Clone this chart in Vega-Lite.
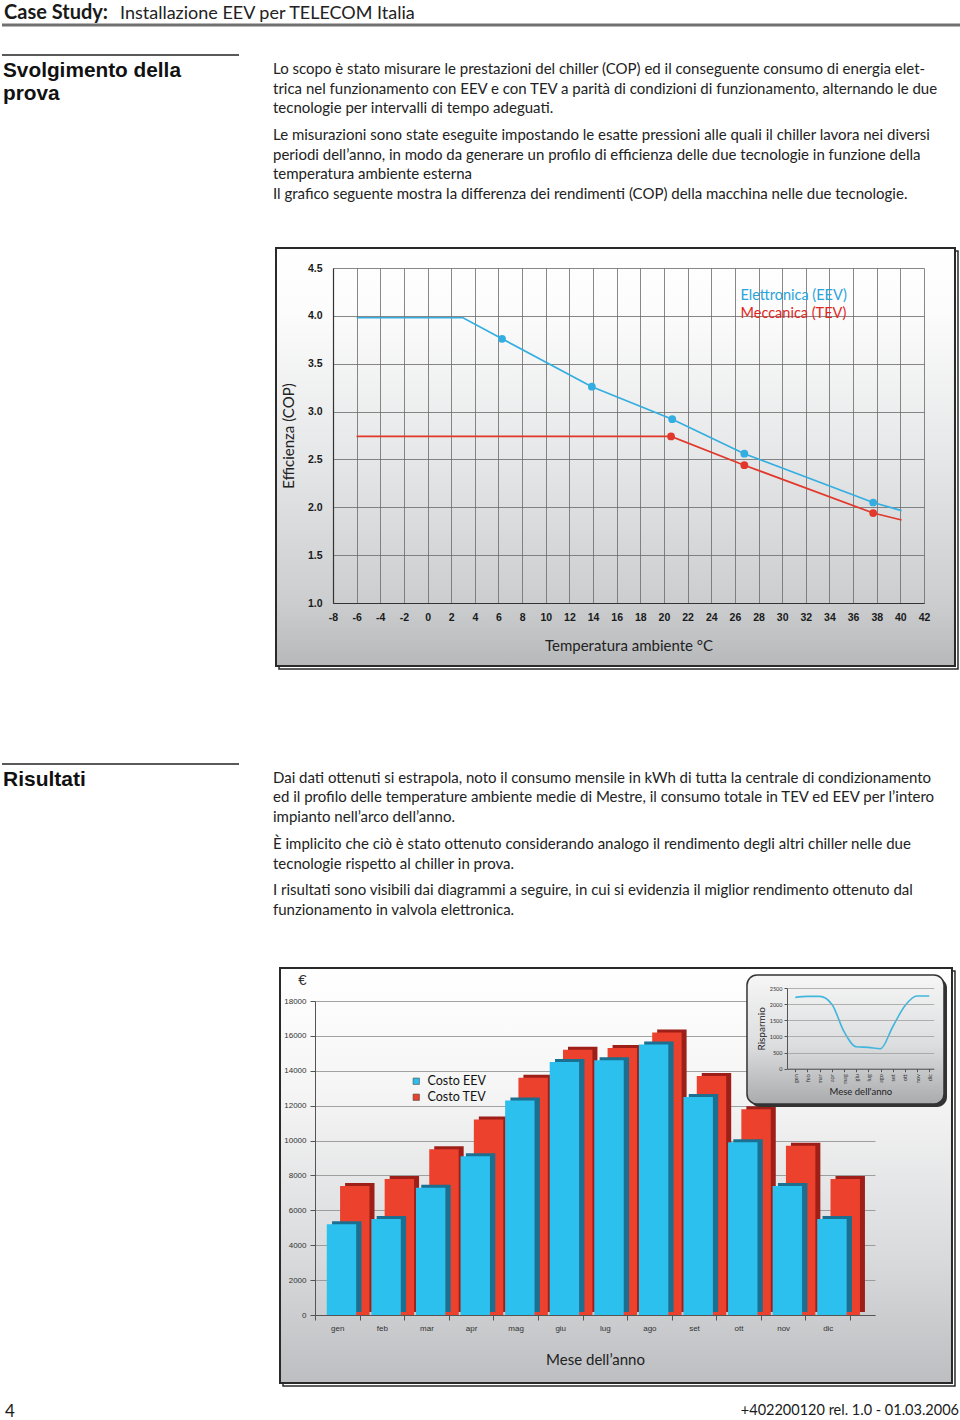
{
  "$schema": "https://vega.github.io/schema/vega-lite/v6.json",
  "padding": 0,
  "background": "white",
  "config": {
    "view": {"stroke": null},
    "font": "Lato",
    "title": {"orient": "bottom", "anchor": "start", "frame": "group", "offset": 0, "font": "Lato", "fontSize": 15, "fontWeight": "normal", "color": "#222222", "lineHeight": 19.5, "baseline": "top"}
  },
  "datasets": {
    "cop_curva": [
      {"serie": "Elettronica (EEV)", "t": -6, "cop": 3.98},
      {"serie": "Elettronica (EEV)", "t": 3, "cop": 3.98},
      {"serie": "Elettronica (EEV)", "t": 6.3, "cop": 3.76},
      {"serie": "Elettronica (EEV)", "t": 13.9, "cop": 3.26},
      {"serie": "Elettronica (EEV)", "t": 20.7, "cop": 2.92},
      {"serie": "Elettronica (EEV)", "t": 26.8, "cop": 2.56},
      {"serie": "Elettronica (EEV)", "t": 37.7, "cop": 2.05},
      {"serie": "Elettronica (EEV)", "t": 40.1, "cop": 1.965},
      {"serie": "Meccanica (TEV)", "t": -6, "cop": 2.74},
      {"serie": "Meccanica (TEV)", "t": 20.6, "cop": 2.74},
      {"serie": "Meccanica (TEV)", "t": 26.8, "cop": 2.44},
      {"serie": "Meccanica (TEV)", "t": 37.7, "cop": 1.94},
      {"serie": "Meccanica (TEV)", "t": 40.1, "cop": 1.867}
    ],
    "cop_misure": [
      {"serie": "Elettronica (EEV)", "t": 6.3, "cop": 3.76},
      {"serie": "Elettronica (EEV)", "t": 13.9, "cop": 3.26},
      {"serie": "Elettronica (EEV)", "t": 20.7, "cop": 2.92},
      {"serie": "Elettronica (EEV)", "t": 26.8, "cop": 2.56},
      {"serie": "Elettronica (EEV)", "t": 37.7, "cop": 2.05},
      {"serie": "Meccanica (TEV)", "t": 20.6, "cop": 2.74},
      {"serie": "Meccanica (TEV)", "t": 26.8, "cop": 2.44},
      {"serie": "Meccanica (TEV)", "t": 37.7, "cop": 1.94}
    ],
    "costi": [
      {"mese": "gen", "serie": "Costo EEV", "costo": 5200}, {"mese": "gen", "serie": "Costo TEV", "costo": 7400},
      {"mese": "feb", "serie": "Costo EEV", "costo": 5500}, {"mese": "feb", "serie": "Costo TEV", "costo": 7800},
      {"mese": "mar", "serie": "Costo EEV", "costo": 7300}, {"mese": "mar", "serie": "Costo TEV", "costo": 9500},
      {"mese": "apr", "serie": "Costo EEV", "costo": 9100}, {"mese": "apr", "serie": "Costo TEV", "costo": 11200},
      {"mese": "mag", "serie": "Costo EEV", "costo": 12300}, {"mese": "mag", "serie": "Costo TEV", "costo": 13600},
      {"mese": "giu", "serie": "Costo EEV", "costo": 14500}, {"mese": "giu", "serie": "Costo TEV", "costo": 15200},
      {"mese": "lug", "serie": "Costo EEV", "costo": 14600}, {"mese": "lug", "serie": "Costo TEV", "costo": 15300},
      {"mese": "ago", "serie": "Costo EEV", "costo": 15500}, {"mese": "ago", "serie": "Costo TEV", "costo": 16200},
      {"mese": "set", "serie": "Costo EEV", "costo": 12500}, {"mese": "set", "serie": "Costo TEV", "costo": 13700},
      {"mese": "ott", "serie": "Costo EEV", "costo": 9900}, {"mese": "ott", "serie": "Costo TEV", "costo": 11800},
      {"mese": "nov", "serie": "Costo EEV", "costo": 7400}, {"mese": "nov", "serie": "Costo TEV", "costo": 9700},
      {"mese": "dic", "serie": "Costo EEV", "costo": 5500}, {"mese": "dic", "serie": "Costo TEV", "costo": 7800}
    ],
    "risparmio": [
      {"n": 1, "mese": "gen", "risparmio": 2210}, {"n": 2, "mese": "feb", "risparmio": 2240},
      {"n": 3, "mese": "mar", "risparmio": 2240}, {"n": 4, "mese": "apr", "risparmio": 2000},
      {"n": 5, "mese": "mag", "risparmio": 1150}, {"n": 6, "mese": "giu", "risparmio": 680},
      {"n": 7, "mese": "lug", "risparmio": 660}, {"n": 8, "mese": "ago", "risparmio": 620},
      {"n": 9, "mese": "set", "risparmio": 1300}, {"n": 10, "mese": "ott", "risparmio": 1950},
      {"n": 11, "mese": "nov", "risparmio": 2250}, {"n": 12, "mese": "dic", "risparmio": 2250}
    ]
  },
  "columns": 2,
  "spacing": 0,
  "bounds": "flush",
  "align": {"row": "each", "column": "each"},
  "resolve": {"scale": {"color": "independent"}, "legend": {"color": "independent"}},
  "concat": [
    {"width": 313, "height": 2, "data": {"values": []}, "mark": "point", "encoding": {},
     "title": {"text": "Case Study:", "dx": 2, "offset": 17, "baseline": "alphabetic", "fontWeight": "bold", "fontSize": 20, "color": "#1a1a1a"}},
    {"width": 645, "height": 2, "data": {"values": []}, "mark": "point", "encoding": {},
     "title": {"text": "Installazione EEV per TELECOM Italia", "dx": -195, "offset": 17, "baseline": "alphabetic", "fontSize": 18, "color": "#222222"}},

    {"width": 313, "height": 23, "data": {"values": [{}]}, "mark": {"type": "rule", "color": "#707070", "strokeWidth": 3},
     "encoding": {"y": {"datum": 0, "scale": {"domain": [0, 1]}, "axis": null}}},
    {"width": 645, "height": 23, "data": {"values": [{}]}, "mark": {"type": "rule", "color": "#707070", "strokeWidth": 3},
     "encoding": {"y": {"datum": 0, "scale": {"domain": [0, 1]}, "axis": null}}},

    {"width": 237, "height": 30, "data": {"values": [{}]}, "mark": {"type": "rule", "color": "#222222", "strokeWidth": 1.3},
     "encoding": {"y": {"datum": 0, "scale": {"domain": [0, 1]}, "axis": null}},
     "title": {"text": ["Svolgimento della", "prova"], "dx": 1, "offset": 5, "font": "Liberation Sans", "fontWeight": "bold", "fontSize": 20.8, "lineHeight": 23, "color": "#111111"}},
    {"width": 645, "height": 30, "data": {"values": []}, "mark": "point", "encoding": {},
     "title": {"text": ["Lo scopo è stato misurare le prestazioni del chiller (COP) ed il conseguente consumo di energia elet-", "trica nel funzionamento con EEV e con TEV a parità di condizioni di funzionamento, alternando le due", "tecnologie per intervalli di tempo adeguati."], "dx": -42, "offset": 7}},

    {"width": 237, "height": 69, "data": {"values": []}, "mark": "point", "encoding": {}},
    {"width": 645, "height": 69, "data": {"values": []}, "mark": "point", "encoding": {},
     "title": {"text": ["Le misurazioni sono state eseguite impostando le esatte pressioni alle quali il chiller lavora nei diversi", "periodi dell’anno, in modo da generare un profilo di efficienza delle due tecnologie in funzione della", "temperatura ambiente esterna", "Il grafico seguente mostra la differenza dei rendimenti (COP) della macchina nelle due tecnologie."], "dx": -42}},

    {"width": 237, "height": 144, "data": {"values": []}, "mark": "point", "encoding": {}},
    {"width": 645, "height": 144, "data": {"values": []}, "mark": "point", "encoding": {}},

    {"width": 313, "height": 335, "data": {"values": [{}]},
     "encoding": {
       "x": {"datum": 0.8754, "scale": {"domain": [0, 1]}, "axis": null},
       "x2": {"datum": 3.0447},
       "y": {"datum": 1.0597, "scale": {"domain": [0, 1]}, "axis": null},
       "y2": {"datum": -0.188}
     },
     "layer": [
       {"mark": {"type": "rect", "fillOpacity": 0, "stroke": "#2a2a2a", "strokeWidth": 1.5, "xOffset": 3, "x2Offset": 3, "yOffset": 3, "y2Offset": 3}},
       {"mark": {"type": "rect", "stroke": "#2a2a2a", "strokeWidth": 2,
         "fill": {"gradient": "linear", "x1": 0, "y1": 0, "x2": 0, "y2": 1, "stops": [
           {"offset": 0, "color": "#ffffff"}, {"offset": 0.15, "color": "#fcfcfc"}, {"offset": 0.5, "color": "#e6e7e8"}, {"offset": 0.85, "color": "#cbcdcf"}, {"offset": 1, "color": "#b6b8ba"}]}}}
     ]},
    {"width": 609, "height": 335,
     "layer": [
       {"data": {"name": "cop_curva"},
        "mark": {"type": "line", "strokeWidth": 1.7},
        "encoding": {
          "x": {"field": "t", "type": "quantitative", "scale": {"domain": [-8, 42], "range": [18, 609], "nice": false, "zero": false},
                "axis": {"values": [-8, -6, -4, -2, 0, 2, 4, 6, 8, 10, 12, 14, 16, 18, 20, 22, 24, 26, 28, 30, 32, 34, 36, 38, 40, 42], "tickCount": 60,
                         "labelExpr": "datum.value + ''", "grid": true, "gridColor": "#6a6a6a", "gridWidth": 0.8,
                         "domainColor": "#333333", "domainWidth": 1.2, "tickSize": 0, "labelPadding": 9,
                         "labelFont": "Liberation Sans", "labelFontWeight": "bold", "labelFontSize": 10.5, "labelColor": "#1a1a1a",
                         "labelFlush": false, "labelOverlap": false,
                         "title": "Temperatura ambiente °C", "titleFont": "Lato", "titleFontSize": 15, "titleFontWeight": "normal",
                         "titleColor": "#222222", "titlePadding": 16}},
          "y": {"field": "cop", "type": "quantitative", "scale": {"domain": [1, 4.5], "nice": false, "zero": false},
                "axis": {"offset": -18, "values": [1, 1.5, 2, 2.5, 3, 3.5, 4, 4.5], "tickCount": 30, "format": ".1f", "grid": true, "gridColor": "#6a6a6a", "gridWidth": 0.8,
                         "domainColor": "#333333", "domainWidth": 1.2, "tickSize": 0, "labelPadding": 11,
                         "labelFont": "Liberation Sans", "labelFontWeight": "bold", "labelFontSize": 10.5, "labelColor": "#1a1a1a",
                         "labelFlush": false, "labelOverlap": false,
                         "title": "Efficienza (COP)", "titleFont": "Lato", "titleFontSize": 15, "titleFontWeight": "normal",
                         "titleColor": "#222222", "titlePadding": 11}},
          "color": {"field": "serie", "type": "nominal",
                    "scale": {"domain": ["Elettronica (EEV)", "Meccanica (TEV)"], "range": ["#34aee0", "#e2382b"]},
                    "legend": {"title": null, "orient": "none", "legendX": 411, "legendY": 21, "symbolSize": 0, "symbolOpacity": 0,
                               "symbolStrokeWidth": 0, "labelOffset": 0, "labelFont": "Lato", "labelFontSize": 14.5, "rowPadding": 2.5, "padding": 0,
                               "encode": {"labels": {"update": {"fill": {"signal": "datum.value == 'Elettronica (EEV)' ? '#2ba3da' : '#e1261c'"}}}}}}
        }},
       {"data": {"name": "cop_misure"},
        "mark": {"type": "circle", "size": 60, "opacity": 1},
        "encoding": {
          "x": {"field": "t", "type": "quantitative"},
          "y": {"field": "cop", "type": "quantitative"},
          "color": {"field": "serie", "type": "nominal"}
        }}
     ]},

    {"width": 237, "height": 161, "data": {"values": [{}]}, "mark": {"type": "rule", "color": "#222222", "strokeWidth": 1.3},
     "encoding": {"y": {"datum": 0, "scale": {"domain": [0, 1]}, "axis": null}},
     "title": {"text": "Risultati", "dx": 1, "offset": 4, "font": "Liberation Sans", "fontWeight": "bold", "fontSize": 21, "color": "#111111"}},
    {"width": 645, "height": 161, "data": {"values": []}, "mark": "point", "encoding": {},
     "title": {"text": ["Dai dati ottenuti si estrapola, noto il consumo mensile in kWh di tutta la centrale di condizionamento", "ed il profilo delle temperature ambiente medie di Mestre, il consumo totale in TEV ed EEV per l’intero", "impianto nell’arco dell’anno."], "dx": -42, "offset": 6.5}},

    {"width": 237, "height": 69, "data": {"values": []}, "mark": "point", "encoding": {}},
    {"width": 645, "height": 69, "data": {"values": []}, "mark": "point", "encoding": {},
     "title": {"text": ["È implicito che ciò è stato ottenuto considerando analogo il rendimento degli altri chiller nelle due", "tecnologie rispetto al chiller in prova."], "dx": -42}},

    {"width": 237, "height": 46, "data": {"values": []}, "mark": "point", "encoding": {}},
    {"width": 645, "height": 46, "data": {"values": []}, "mark": "point", "encoding": {},
     "title": {"text": ["I risultati sono visibili dai diagrammi a seguire, in cui si evidenzia il miglior rendimento ottenuto dal", "funzionamento in valvola elettronica."], "dx": -42}},

    {"width": 237, "height": 122, "data": {"values": []}, "mark": "point", "encoding": {}},
    {"width": 645, "height": 122, "data": {"values": []}, "mark": "point", "encoding": {}},

    {"width": 313, "height": 314, "data": {"values": [{}]},
     "encoding": {
       "x": {"datum": 0.8882, "scale": {"domain": [0, 1]}, "axis": null},
       "x2": {"datum": 3.0351},
       "y": {"datum": 1.1051, "scale": {"domain": [0, 1]}, "axis": null},
       "y2": {"datum": -0.2166}
     },
     "layer": [
       {"mark": {"type": "rect", "fillOpacity": 0, "stroke": "#2a2a2a", "strokeWidth": 1.5, "xOffset": 3, "x2Offset": 3, "yOffset": 3, "y2Offset": 3}},
       {"mark": {"type": "rect", "stroke": "#2a2a2a", "strokeWidth": 2,
         "fill": {"gradient": "linear", "x1": 0, "y1": 0, "x2": 0, "y2": 1, "stops": [
           {"offset": 0, "color": "#ffffff"}, {"offset": 0.3, "color": "#f5f5f5"}, {"offset": 0.7, "color": "#d9dadc"}, {"offset": 1, "color": "#bcbec1"}]}}}
     ]},
    {"width": 560, "height": 314,
     "resolve": {"scale": {"x": "independent", "y": "independent"}},
     "layer": [
       {"data": {"name": "costi"},
        "encoding": {
          "x": {"field": "mese", "type": "nominal",
                "scale": {"domain": ["gen", "feb", "mar", "apr", "mag", "giu", "lug", "ago", "set", "ott", "nov", "dic"], "paddingInner": 0, "paddingOuter": 0.28, "align": 0},
                "axis": {"orient": "bottom", "tickBand": "extent", "tickSize": 5, "tickColor": "#555555", "labelFont": "Liberation Sans", "labelFontSize": 8,
                         "labelColor": "#333333", "labelPadding": 4, "labelAngle": 0, "domainColor": "#555555",
                         "title": "Mese dell’anno", "titleFont": "Lato", "titleFontSize": 15, "titleFontWeight": "normal", "titleColor": "#222222", "titlePadding": 20}},
          "y": {"field": "costo", "type": "quantitative", "scale": {"domain": [0, 18000], "nice": false},
                "axis": {"orient": "left", "values": [0, 2000, 4000, 6000, 8000, 10000, 12000, 14000, 16000, 18000], "tickCount": 30, "format": "d",
                         "grid": true, "gridColor": "#8c8c8c", "gridWidth": 0.8,
                         "tickSize": 5, "tickColor": "#555555", "labelFont": "Liberation Sans", "labelFontSize": 8, "labelColor": "#333333", "labelPadding": 4,
                         "domainColor": "#555555", "labelFlush": false, "labelOverlap": false,
                         "title": "€", "titleAngle": 0, "titleX": -13, "titleY": -22, "titleFont": "Liberation Sans", "titleFontSize": 15,
                         "titleFontWeight": "normal", "titleColor": "#333333", "titleAlign": "center", "titleBaseline": "middle"}}
        },
        "layer": [
          {"transform": [{"filter": "datum.serie == 'Costo TEV'"}],
           "mark": {"type": "bar", "color": "#9d1f18", "width": {"band": 0.66}, "xOffset": 22.5, "yOffset": -3}},
          {"transform": [{"filter": "datum.serie == 'Costo TEV'"}],
           "mark": {"type": "bar", "width": {"band": 0.66}, "xOffset": 17.5},
           "encoding": {"color": {"field": "serie", "type": "nominal",
             "scale": {"domain": ["Costo EEV", "Costo TEV"], "range": ["#2cc0ee", "#ec412d"]},
             "legend": {"title": null, "orient": "none", "legendX": 95, "legendY": 74, "symbolType": "square", "symbolSize": 40,
                        "symbolStrokeColor": "#444444", "symbolStrokeWidth": 0.6, "labelFont": "Lato", "labelFontSize": 12.5,
                        "labelColor": "#111111", "rowPadding": 3, "labelOffset": 5, "padding": 0}}}},
          {"transform": [{"filter": "datum.serie == 'Costo EEV'"}],
           "mark": {"type": "bar", "color": "#1b6f90", "width": {"band": 0.66}, "xOffset": 9.5, "yOffset": -3}},
          {"transform": [{"filter": "datum.serie == 'Costo EEV'"}],
           "mark": {"type": "bar", "width": {"band": 0.66}, "xOffset": 4.2},
           "encoding": {"color": {"field": "serie", "type": "nominal"}}}
        ]},
       {"data": {"values": [{}]},
        "encoding": {
          "x": {"datum": 0.7714, "scale": {"domain": [0, 1]}, "axis": null},
          "x2": {"datum": 1.1232},
          "y": {"datum": 1.0828, "scale": {"domain": [0, 1]}, "axis": null},
          "y2": {"datum": 0.672}
        },
        "layer": [
          {"mark": {"type": "rect", "color": "#333333", "cornerRadius": 10, "xOffset": 3, "x2Offset": 3, "yOffset": 3, "y2Offset": 3}},
          {"mark": {"type": "rect", "cornerRadius": 10, "stroke": "#333333", "strokeWidth": 1.5,
             "fill": {"gradient": "linear", "x1": 0, "y1": 0, "x2": 0, "y2": 1, "stops": [
               {"offset": 0, "color": "#f6f6f6"}, {"offset": 0.55, "color": "#dcdddf"}, {"offset": 1, "color": "#a9abad"}]}}}
        ]},
       {"data": {"name": "risparmio"},
        "mark": {"type": "line", "color": "#41b6dc", "strokeWidth": 1.6, "interpolate": "monotone"},
        "encoding": {
          "x": {"field": "n", "type": "quantitative", "scale": {"domain": [0.32, 12.36], "range": [472, 618.7], "nice": false, "zero": false},
                "axis": {"orient": "bottom", "offset": -246.3, "values": [1, 2, 3, 4, 5, 6, 7, 8, 9, 10, 11, 12], "tickCount": 30,
                         "labelExpr": "['gen','feb','mar','apr','mag','giu','lug','ago','set','ott','nov','dic'][datum.value - 1]",
                         "labelAngle": -90, "labelFontSize": 5.5, "labelColor": "#333333", "tickSize": 3, "labelPadding": 2,
                         "domainColor": "#555555", "tickColor": "#555555", "labelFlush": false, "labelOverlap": false, "grid": false,
                         "title": "Mese dell'anno", "titleFont": "Lato", "titleFontSize": 9.5, "titleFontWeight": "normal", "titleColor": "#222222",
                         "titlePadding": 3, "zindex": 1}},
          "y": {"field": "risparmio", "type": "quantitative", "scale": {"domain": [0, 2500], "range": [67.7, -13], "nice": false},
                "axis": {"orient": "left", "offset": -472, "values": [0, 500, 1000, 1500, 2000, 2500], "tickCount": 30, "format": "d",
                         "labelFontSize": 5.5, "labelColor": "#333333",
                         "tickSize": 3, "labelPadding": 2, "grid": true, "gridColor": "#a0a0a0", "gridWidth": 0.8, "domainColor": "#555555",
                         "tickColor": "#555555", "labelFlush": false, "labelOverlap": false,
                         "title": "Risparmio", "titleFont": "Lato", "titleFontSize": 10, "titleFontWeight": "normal", "titleColor": "#222222",
                         "titlePadding": 3, "zindex": 1}}
        }}
     ]},

    {"width": 313, "height": 85, "data": {"values": []}, "mark": "point", "encoding": {},
     "title": {"text": "4", "dx": 3, "fontSize": 17, "color": "#1a1a1a"}},
    {"width": 644, "height": 85, "data": {"values": []}, "mark": "point", "encoding": {},
     "title": {"text": "+402200120 rel. 1.0 - 01.03.2006", "anchor": "end", "fontSize": 14.5, "color": "#1a1a1a"}}
  ]
}
